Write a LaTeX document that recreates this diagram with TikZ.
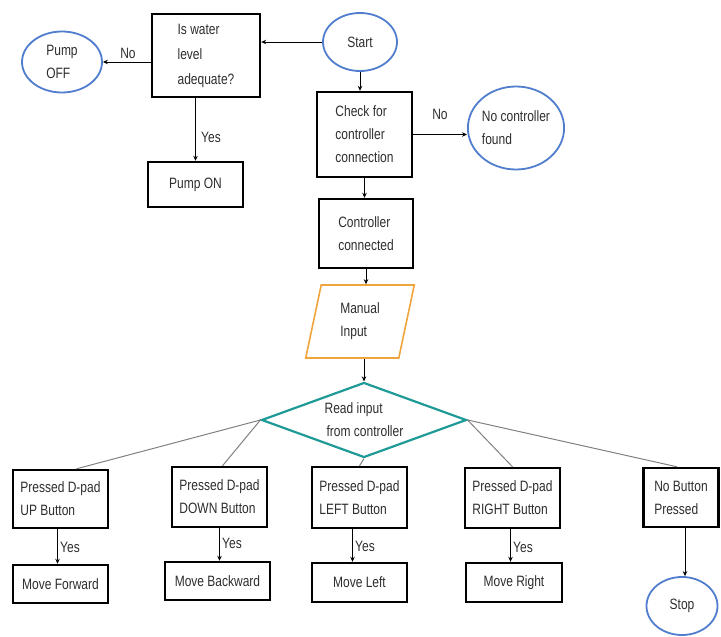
\documentclass[tikz,border=0pt]{standalone}
\usepackage{fontspec}
\setmainfont{Liberation Sans}[FakeStretch=0.8]
\usetikzlibrary{shapes.geometric, arrows.meta}
\definecolor{ovalblue}{RGB}{80,125,205}
\definecolor{inputorange}{RGB}{240,165,60}
\definecolor{readteal}{RGB}{30,155,150}
\definecolor{textgray}{RGB}{45,45,45}

\begin{document}
\begin{tikzpicture}[x=1pt, y=-1pt,
	font=\fontsize{15}{23}\selectfont, text=textgray,
	box/.style={draw, line width=2.4pt, inner sep=0pt, align=left},
	oval/.style={ellipse, draw=ovalblue, line width=1.8pt, inner sep=0pt, align=left},
	arr/.style={-{Stealth[length=5pt,width=4.5pt]}, line width=0.8pt},
	branch/.style={draw=gray, line width=1pt},
	lbl/.style={inner sep=1pt}]
	\useasboundingbox (0,0) rectangle (721,637);
	
	% top row
	\node[oval, minimum width=80pt, minimum height=61pt] (pumpoff) at (62,62) {Pump\\OFF};
	\node[box, minimum width=108pt, minimum height=83pt, font=\fontsize{15}{25}\selectfont] (water) at (206,55.5) {Is water\\level\\adequate?};
	\node[oval, minimum width=74pt, minimum height=58pt] (start) at (360,42) {Start};
	\node[box, minimum width=95pt, minimum height=45pt] (pumpon) at (195.5,184.5) {Pump ON};
	\node[box, minimum width=95pt, minimum height=85pt] (check) at (364.5,134.5) {Check for\\controller\\connection};
	\node[oval, minimum width=93pt, minimum height=83pt] (nofound) at (516,128) {No controller\\found};
	\node[box, minimum width=94pt, minimum height=69pt] (connected) at (366,233.5) {Controller\\connected};
	
	\node[trapezium, trapezium left angle=78, trapezium right angle=102,
		draw=inputorange, line width=1.6pt, inner sep=0pt, align=left,
		minimum width=88pt, minimum height=73pt] (manual) at (360,321.5) {Manual\\Input};
	\node[diamond, aspect=2.73, draw=readteal, line width=2.2pt, inner sep=0pt, align=left,
		minimum width=205pt, minimum height=75pt] (read) at (364,420) {Read input\\\hspace{2pt}from controller};
	
	% button row
	\node[box, minimum width=95pt, minimum height=58pt] (up) at (60.5,499) {Pressed D-pad\\UP Button};
	\node[box, minimum width=95pt, minimum height=60pt] (down) at (219.5,497) {Pressed D-pad\\DOWN Button};
	\node[box, minimum width=95pt, minimum height=61pt] (left) at (359.5,497.5) {Pressed D-pad\\LEFT Button};
	\node[box, minimum width=95pt, minimum height=60pt] (right) at (512.5,498) {Pressed D-pad\\RIGHT Button};
	\node[box, minimum width=75pt, minimum height=59pt] (none) at (681,497.5) {No Button\\Pressed};
	
	\node[box, minimum width=95pt, minimum height=38pt] (fwd) at (60.5,584) {Move Forward};
	\node[box, minimum width=105pt, minimum height=38pt] (back) at (217.5,581) {Move Backward};
	\node[box, minimum width=95pt, minimum height=39pt] (mleft) at (359.5,582.5) {Move Left};
	\node[box, minimum width=96pt, minimum height=39pt] (mright) at (514,582.5) {Move Right};
	\node[oval, minimum width=71pt, minimum height=58pt] (stop) at (682,606) {Stop};
	
	% connectors
	\draw[arr] (start.west) -- (start.west -| water.east);
	\draw[arr] (water.west |- pumpoff.east) -- (pumpoff.east);
	\node[lbl] (no1) at (128,53) {No};
	\draw[arr] (water.south -| pumpon.north) -- (pumpon.north);
	\node[lbl, anchor=west] (yes0) at (200,137) {Yes};
	\draw[arr] (start.south) -- (start.south |- check.north);
	\draw[arr] (check.east) -- (check.east -| nofound.west);
	\node[lbl] (no2) at (440,114) {No};
	\draw[arr] (check.south) -- (check.south |- connected.north);
	\draw[arr] (connected.south) -- (connected.south |- manual.north);
	\draw[arr] (read.north |- manual.south) -- (read.north);
	
	\draw[branch] (read.west) -- ([xshift=16pt]up.north);
	\draw[branch] (read.west) -- ([xshift=3pt]down.north);
	\draw[branch] (read.south) -- (left.north);
	\draw[branch] (read.east) -- (right.north);
	\draw[branch] (read.east) -- ([xshift=-4pt]none.north);
	
	\draw[arr] ([xshift=-3pt]up.south) -- ([xshift=-3pt]up.south |- fwd.north);
	\node[lbl, anchor=west] (yes1) at (59,547) {Yes};
	\draw[arr] (down.south) -- (down.south |- back.north);
	\node[lbl, anchor=west] (yes2) at (221,543) {Yes};
	\draw[arr] ([xshift=-7pt]left.south) -- ([xshift=-7pt]left.south |- mleft.north);
	\node[lbl, anchor=west] (yes3) at (354,546) {Yes};
	\draw[arr] ([xshift=-2pt]right.south) -- ([xshift=-2pt]right.south |- mright.north);
	\node[lbl, anchor=west] (yes4) at (512,547) {Yes};
	\draw[arr] ([xshift=4pt]none.south) -- ([xshift=4pt]none.south |- stop.north);
\end{tikzpicture}
\end{document}
